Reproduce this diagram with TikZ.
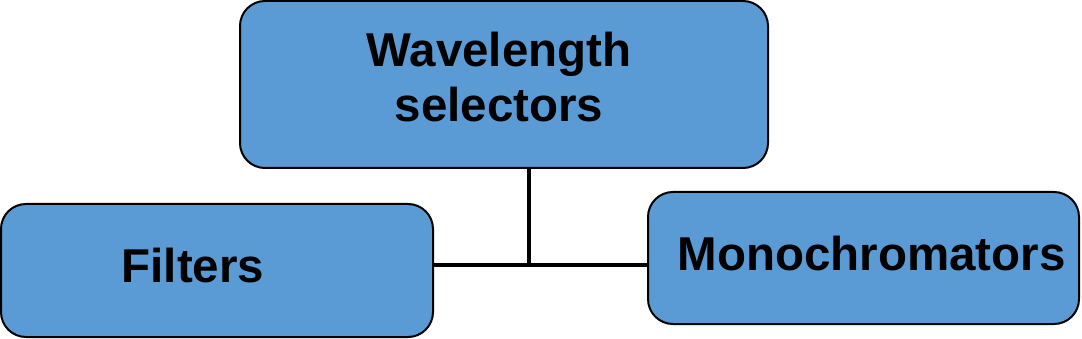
\documentclass[tikz,border=0pt]{standalone}
\usepackage{fontspec}
\setmainfont{Liberation Sans}
\definecolor{boxblue}{HTML}{5B9BD5}
\begin{document}
\begin{tikzpicture}[x=1pt,y=-1pt,
  box/.style={draw=black, line width=2pt, fill=boxblue, rounded corners=25pt, inner sep=0pt},
  lbl/.style={anchor=base, inner sep=0pt, font=\fontsize{47.5}{55}\selectfont\bfseries},
  conn/.style={draw=black, line width=3.2pt}]
\useasboundingbox (0,0) rectangle (1082,339);
\node[box, minimum width=528pt, minimum height=167pt] (top) at (504,84.5) {};
\node[box, minimum width=432pt, minimum height=133pt] (left) at (217,270.5) {};
\node[box, minimum width=431pt, minimum height=132pt] (right) at (863.5,258) {};
\node[lbl] (t1) at (499,67) {Wavelength};
\node[lbl] (t2) at (499,122) {selectors};
\node[lbl] (tl) at (193,283) {Filters};
\node[lbl] (tr) at (871.5,271) {Monochromators};
\coordinate (j) at (529,265);
\draw[conn] (top.south -| j) -- (j);
\draw[conn] (left.east |- j) -- (right.west |- j);
\end{tikzpicture}
\end{document}
